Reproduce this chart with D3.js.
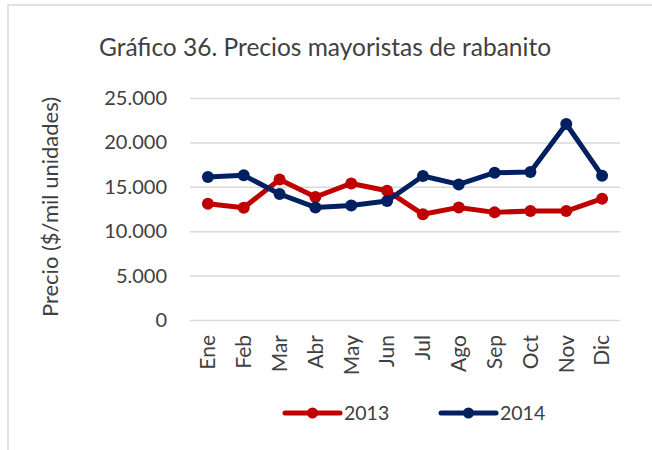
<!DOCTYPE html>
<html>
<head>
<meta charset="utf-8">
<script src="https://cdn.jsdelivr.net/npm/d3@7"></script>
<style>
  html, body { margin: 0; padding: 0; background: #fff; }
  svg text { font-family: Lato, "Liberation Sans", sans-serif; fill: #404040; }
</style>
</head>
<body>
<div id="chart"></div>
<script>
// data
const months = ['Ene', 'Feb', 'Mar', 'Abr', 'May', 'Jun', 'Jul', 'Ago', 'Sep', 'Oct', 'Nov', 'Dic'];
const values2013 = [13100, 12650, 15830, 13850, 15380, 14560, 11900, 12680, 12120, 12270, 12270, 13660];
const values2014 = [16100, 16290, 14190, 12680, 12900, 13400, 16220, 15270, 16590, 16660, 22070, 16250];
const yTicks = [0, 5000, 10000, 15000, 20000, 25000];
const seriesNames = ['2013', '2014'];
const seriesColors = ['#c00000', '#002060'];

const W = 652, H = 450;
const margin = { top: 98, right: 32, bottom: 130, left: 190 };
const width = W - margin.left - margin.right;
const height = H - margin.top - margin.bottom;

const svg = d3.select('#chart').append('svg')
  .attr('width', W)
  .attr('height', H);

// chart frame
svg.append('rect')
  .attr('x', 8).attr('y', 5)
  .attr('width', W + 20).attr('height', H + 20)
  .attr('fill', 'none')
  .attr('stroke', '#d9d9d9')
  .attr('stroke-width', 1.5);

svg.append('text')
  .attr('x', 325).attr('y', 56)
  .attr('text-anchor', 'middle')
  .style('font-size', '24.5px')
  .text('Gráfico 36. Precios mayoristas de rabanito');

const g = svg.append('g')
  .attr('transform', `translate(${margin.left},${margin.top})`);

const x = d3.scaleBand().domain(months).range([0, width]);
const y = d3.scaleLinear().domain([0, 25000]).range([height, 0]);
const fmt = d => d3.format(',')(d).replace(/,/g, '.');

// gridlines + y labels
const yAxis = g.append('g')
  .call(d3.axisLeft(y).tickValues(yTicks).tickSize(-width).tickFormat(fmt));
yAxis.select('.domain').remove();
yAxis.selectAll('.tick line').attr('stroke', '#d9d9d9').attr('stroke-width', 1.5);
yAxis.selectAll('.tick text')
  .attr('x', -23)
  .style('font-size', '20px')
  .style('font-family', 'Lato, sans-serif')
  .attr('fill', '#404040');

// x labels
const xAxis = g.append('g')
  .attr('transform', `translate(0,${height})`)
  .call(d3.axisBottom(x).tickSize(0));
xAxis.select('.domain').remove();
xAxis.selectAll('.tick text')
  .attr('transform', 'rotate(-90)')
  .attr('text-anchor', 'end')
  .attr('x', -15)
  .attr('y', 0)
  .attr('dy', '0.35em')
  .style('font-size', '21px')
  .style('font-family', 'Lato, sans-serif')
  .attr('fill', '#404040');

// y axis title
svg.append('text')
  .attr('transform', `translate(58,${margin.top + height / 2 - 2}) rotate(-90)`)
  .attr('text-anchor', 'middle')
  .style('font-size', '22px')
  .text('Precio ($/mil unidades)');

const line = d3.line()
  .x((d, i) => x(months[i]) + x.bandwidth() / 2)
  .y(d => y(d));

[values2013, values2014].forEach((vals, k) => {
  g.append('path')
    .datum(vals)
    .attr('d', line)
    .attr('fill', 'none')
    .attr('stroke', seriesColors[k])
    .attr('stroke-width', 5)
    .attr('stroke-linejoin', 'round');
  g.selectAll(null).data(vals).enter().append('circle')
    .attr('cx', (d, i) => x(months[i]) + x.bandwidth() / 2)
    .attr('cy', d => y(d))
    .attr('r', 6)
    .attr('fill', seriesColors[k]);
});

// legend
const legend = svg.append('g').attr('transform', 'translate(285,413)');
seriesNames.forEach((name, k) => {
  const lg = legend.append('g').attr('transform', `translate(${k * 156},0)`);
  lg.append('line')
    .attr('x1', 0).attr('x2', 55)
    .attr('stroke', seriesColors[k])
    .attr('stroke-width', 5)
    .attr('stroke-linecap', 'round');
  lg.append('circle').attr('cx', 27.5).attr('r', 5.5).attr('fill', seriesColors[k]);
  lg.append('text')
    .attr('x', 59).attr('dy', '0.35em')
    .style('font-size', '19.5px')
    .text(name);
});
</script>
</body>
</html>
